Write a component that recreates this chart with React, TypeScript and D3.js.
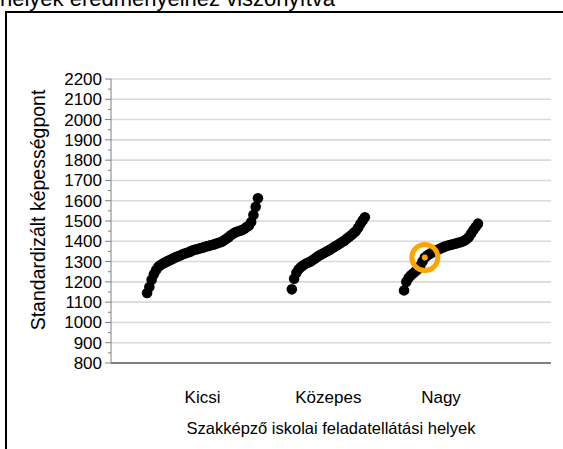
import React from "react";
import * as d3 from "d3";

const categories = ["Kicsi", "Közepes", "Nagy"];

const kicsiValues = [
  1145, 1175, 1210, 1238, 1258, 1275, 1283, 1290, 1296, 1302, 1307, 1312, 1318,
  1323, 1327, 1332, 1337, 1341, 1345, 1349, 1354, 1358, 1361, 1364, 1367, 1370,
  1374, 1377, 1380, 1383, 1386, 1390, 1394, 1398, 1405, 1412, 1420, 1430, 1437,
  1444, 1448, 1452, 1456, 1462, 1470, 1478, 1495, 1530, 1570, 1612,
];

const kozepesValues = [
  1163, 1215, 1245, 1262, 1273, 1282, 1289, 1294, 1299, 1306, 1314, 1323, 1330,
  1336, 1342, 1348, 1354, 1361, 1368, 1375, 1382, 1389, 1396, 1403, 1412, 1421,
  1430, 1440, 1450, 1466, 1485, 1503, 1518,
];

const nagyValues = [
  1158, 1200, 1220, 1232, 1242, 1252, 1262, 1278, 1300, 1320, 1330, 1337, 1343,
  1350, 1356, 1361, 1366, 1371, 1375, 1379, 1382, 1385, 1388, 1391, 1394, 1398,
  1403, 1410, 1420, 1437, 1455, 1470, 1487,
];

const seriesValues = [kicsiValues, kozepesValues, nagyValues];
// horizontal span of each category on a 0..100 x domain
const categorySpans: [number, number][] = [
  [8.2, 33.4],
  [41.1, 57.7],
  [66.6, 83.4],
];
const highlighted = { category: 2, index: 9 };

const yTicks = d3.range(800, 2201, 100);
const yMinorTicks = d3.range(850, 2200, 100);

const titleText = "helyek eredményeihez viszonyítva";
const yTitle = "Standardizált képességpont";
const xTitle = "Szakképző iskolai feladatellátási helyek";

const W = 563;
const H = 449;
const plot = { left: 111, right: 551, top: 79, bottom: 363 };
const FONT = "'Liberation Sans', Arial, sans-serif";

export default function App() {
  const x = d3.scaleLinear().domain([0, 100]).range([plot.left, plot.right]);
  const y = d3.scaleLinear().domain([800, 2200]).range([plot.bottom, plot.top]);

  const points = seriesValues.flatMap((vals, g) => {
    const [a, b] = categorySpans[g];
    const step = d3.scaleLinear().domain([0, vals.length - 1]).range([a, b]);
    return vals.map((v, i) => ({ g, i, cx: x(step(i)), cy: y(v) }));
  });
  const hp = points.find(
    (p) => p.g === highlighted.category && p.i === highlighted.index
  )!;

  return (
    <svg
      width={W}
      height={H}
      style={{ position: "absolute", left: 0, top: 0, background: "#fff" }}
      fontFamily={FONT}
    >
      <rect x={0} y={0} width={W} height={H} fill="#fff" />
      <text x={335} y={6} textAnchor="end" fontSize={22} fill="#000">
        {titleText}
      </text>
      <rect
        x={6}
        y={12}
        width={W + 20}
        height={H + 20}
        fill="none"
        stroke="#000"
        strokeWidth={2}
      />
      {/* grid */}
      {yTicks
        .filter((t) => t !== 800)
        .map((t) => (
          <line
            key={"g" + t}
            x1={plot.left}
            x2={plot.right}
            y1={y(t)}
            y2={y(t)}
            stroke="#d9d9d9"
            strokeWidth={1.6}
          />
        ))}
      {/* y axis */}
      <line
        x1={plot.left}
        x2={plot.left}
        y1={plot.top}
        y2={plot.bottom}
        stroke="#808080"
        strokeWidth={1}
      />
      {yTicks.map((t) => (
        <g key={"t" + t}>
          <line
            x1={plot.left - 6}
            x2={plot.left}
            y1={y(t)}
            y2={y(t)}
            stroke="#808080"
            strokeWidth={1}
          />
          <text
            x={plot.left - 9}
            y={y(t)}
            dy="0.35em"
            textAnchor="end"
            fontSize={17}
            fill="#000"
          >
            {t}
          </text>
        </g>
      ))}
      {yMinorTicks.map((t) => (
        <line
          key={"m" + t}
          x1={plot.left - 3}
          x2={plot.left}
          y1={y(t)}
          y2={y(t)}
          stroke="#808080"
          strokeWidth={1}
        />
      ))}
      {/* x axis */}
      <line
        x1={plot.left}
        x2={plot.right}
        y1={y(800)}
        y2={y(800)}
        stroke="#7f7f7f"
        strokeWidth={2}
      />
      {/* points */}
      {points.map((p) => (
        <circle key={p.g + "-" + p.i} cx={p.cx} cy={p.cy} r={5.3} fill="#000" />
      ))}
      {/* highlight */}
      <circle
        cx={hp.cx}
        cy={hp.cy}
        r={13}
        fill="none"
        stroke="#FFA500"
        strokeWidth={5}
      />
      <circle cx={hp.cx} cy={hp.cy} r={3} fill="#FFA500" />
      {/* category labels */}
      {categories.map((c, g) => (
        <text
          key={c}
          x={x((categorySpans[g][0] + categorySpans[g][1]) / 2)}
          y={403}
          textAnchor="middle"
          fontSize={17}
          fill="#000"
        >
          {c}
        </text>
      ))}
      <text x={331} y={434} textAnchor="middle" fontSize={16.5} fill="#000">
        {xTitle}
      </text>
      <text
        transform={`translate(45, 210) rotate(-90)`}
        textAnchor="middle"
        fontSize={19.5}
        fill="#000"
      >
        {yTitle}
      </text>
    </svg>
  );
}
